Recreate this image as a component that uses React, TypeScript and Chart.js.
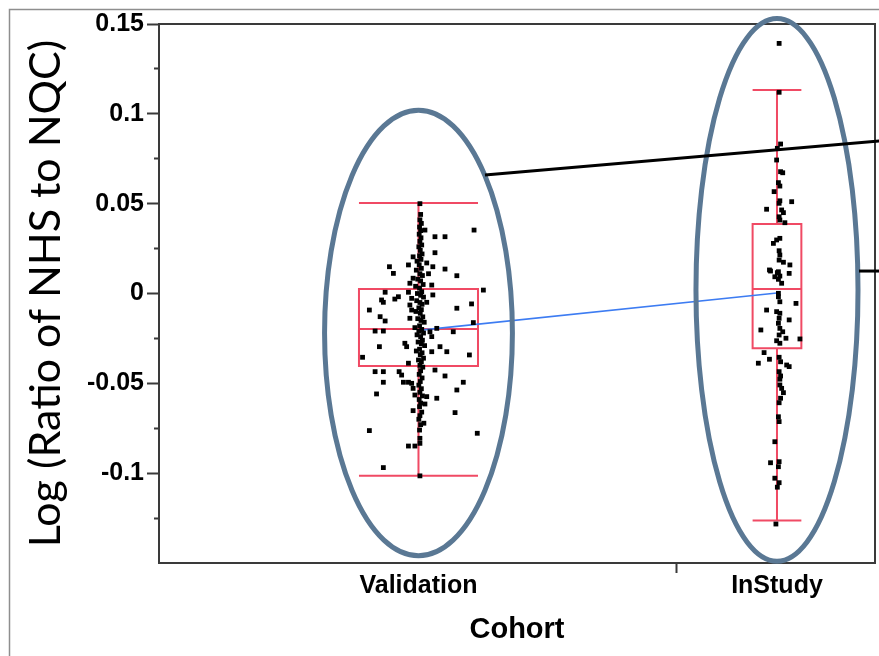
import React, { useEffect, useRef } from 'react';
import { Chart, registerables } from 'chart.js';

Chart.register(...registerables);

// ---------- data ----------
const cohorts = ['Validation', 'InStudy'];
const cohortPositions = [1, 2];
const cohortBoundary = 1.721;
const xTickValues = [1, cohortBoundary, 2];
const xTickLabels = ['Validation', '', 'InStudy'];

const yTickValues = [-0.125, -0.1, -0.075, -0.05, -0.025, 0, 0.025, 0.05, 0.075, 0.1, 0.125, 0.15];
const yTickLabels = ['', '-0.1', '', '-0.05', '', '0', '', '0.05', '', '0.1', '', '0.15'];

// Validation cohort: log ratio values and horizontal jitter (category units)
const validationValues = [
  0.0500, 0.0353, 0.0316, 0.0316, 0.0353, 0.0227, 0.0204, 0.0149, 0.0112, 0.0159,
  0.0170, 0.0149, 0.0136, 0.0110, 0.0099, 0.0085, 0.0057, 0.0047, 0.0019, 0.0007,
  0.0007, -0.0008, -0.0031, -0.0018, -0.0036, -0.0049, -0.0027, -0.0049, -0.0082, -0.0058,
  -0.0092, -0.0064, -0.0092, -0.0129, -0.0153, -0.0138, -0.0162, -0.0209, -0.0209, -0.0213,
  -0.0194, -0.0213, -0.0240, -0.0277, -0.0296, -0.0296, -0.0296, -0.0324, -0.0324, -0.0355,
  -0.0342, -0.0388, -0.0435, -0.0435, -0.0435, -0.0454, -0.0426, -0.0459, -0.0494, -0.0494,
  -0.0494, -0.0500, -0.0528, -0.0494, -0.0537, -0.0559, -0.0565, -0.0574, -0.0583, -0.0615,
  -0.0652, -0.0663, -0.0722, -0.0763, -0.0778, -0.0806, -0.0834, -0.0849, -0.0849, -0.0969,
  -0.1015,
  0.044, 0.041, 0.039, 0.037, 0.035, 0.033, 0.031, 0.029, 0.027, 0.026,
  0.024, 0.022, 0.021, 0.019, 0.018, 0.016, 0.014, 0.013, 0.011, 0.010,
  0.008, 0.007, 0.005, 0.004, 0.003, 0.001, 0.000, -0.001, -0.002, -0.004,
  -0.005, -0.006, -0.008, -0.009, -0.010, -0.011, -0.013, -0.014, -0.015, -0.016,
  -0.018, -0.019, -0.020, -0.021, -0.022, -0.023, -0.024, -0.026, -0.027, -0.028,
  -0.029, -0.031, -0.032, -0.033, -0.034, -0.036, -0.037, -0.038, -0.040, -0.041,
  -0.043, -0.045, -0.047, -0.049, -0.051, -0.053, -0.055, -0.057, -0.059, -0.061,
  -0.063, -0.066, -0.068, -0.070, -0.073, -0.076,
];
const validationJitter = [
  0.004, 0.155, 0.046, 0.074, 0.018, 0.046, -0.015, -0.081, -0.070, -0.028,
  0.023, 0.040, 0.074, 0.028, 0.107, -0.015, -0.024, 0.037, 0.181, -0.093,
  -0.028, 0.040, -0.066, -0.056, -0.103, -0.098, -0.019, 0.023, 0.107, 0.148,
  -0.137, -0.024, -0.019, -0.107, -0.093, -0.024, 0.153, -0.121, -0.098, 0.097,
  0.051, 0.032, 0.037, -0.038, -0.033, -0.109, 0.060, 0.079, 0.037, -0.156,
  0.142, -0.028, -0.121, -0.098, -0.054, -0.047, 0.046, 0.074, -0.098, -0.042,
  -0.028, -0.019, -0.015, 0.125, 0.107, -0.117, -0.010, 0.023, 0.051, 0.018,
  -0.015, 0.102, 0.015, -0.137, 0.164, 0.004, 0.004, -0.028, -0.010, -0.098,
  0.004,
  0.006, 0.004, 0.008, 0.003, 0.006, 0.002, 0.007, 0.004, 0.009, 0.001,
  0.005, 0.010, 0.003, 0.007, -0.004, 0.002, 0.008, -0.006, 0.004, 0.011,
  -0.002, 0.006, 0.013, -0.008, 0.003, 0.009, -0.003, 0.006, 0.014, -0.005,
  0.004, 0.010, 0.001, 0.008, -0.007, 0.005, 0.012, -0.002, 0.007, 0.016,
  0.003, -0.010, 0.009, 0.001, 0.014, -0.004, 0.006, 0.011, -0.001, 0.008,
  0.017, 0.003, -0.006, 0.010, 0.005, 0.014, 0.000, 0.008, 0.004, 0.012,
  0.006, 0.002, 0.010, 0.005, 0.001, 0.008, 0.004, 0.011, 0.002, 0.006,
  0.003, 0.009, 0.004, 0.001, 0.006, 0.003,
];

// InStudy cohort
const inStudyValues = [
  0.1392, 0.1120, 0.0832, 0.0808, 0.0743, 0.0678, 0.0672, 0.0617, 0.0598, 0.0567,
  0.0516, 0.0502, 0.0511, 0.0469, 0.0465, 0.0450, 0.0427, 0.0409, 0.0394, 0.0307,
  0.0298, 0.0279, 0.0238, 0.0214, 0.0186, 0.0174, 0.0159, 0.0131, 0.0121, 0.0097,
  0.0125, 0.0116, 0.0112, 0.0093, 0.0079, 0.0057, 0.0001, -0.0018, -0.0046, -0.0055,
  -0.0092, -0.0101, -0.0110, -0.0147, -0.0138, -0.0166, -0.0194, -0.0203, -0.0213, -0.0231,
  -0.0249, -0.0253, -0.0263, -0.0277, -0.0329, -0.0366, -0.0388, -0.0355, -0.0380, -0.0398,
  -0.0407, -0.0435, -0.0459, -0.0477, -0.0509, -0.0528, -0.0552, -0.0583, -0.0608, -0.0686,
  -0.0713, -0.0825, -0.0942, -0.0936, -0.0964, -0.1028, -0.1053, -0.1078, -0.1283,
];
const inStudyJitter = [
  0.006, 0.006, 0.010, 0.001, -0.001, 0.010, 0.016, 0.004, 0.008, -0.008,
  0.008, 0.006, 0.041, -0.029, 0.013, 0.018, 0.006, 0.008, 0.022, 0.008,
  -0.001, -0.010, 0.006, 0.008, 0.006, 0.018, 0.036, -0.021, 0.004, 0.008,
  -0.018, 0.001, 0.034, -0.006, 0.004, 0.013, 0.004, 0.004, 0.008, 0.053,
  -0.029, -0.001, 0.008, 0.034, 0.006, 0.004, 0.008, -0.045, 0.016, 0.006,
  0.025, 0.064, -0.001, 0.008, -0.036, -0.021, -0.052, 0.006, 0.010, 0.027,
  0.034, 0.006, 0.010, 0.008, 0.008, 0.013, 0.018, 0.010, 0.006, 0.004,
  0.006, -0.006, -0.018, 0.006, 0.004, -0.006, 0.006, 0.001, -0.003,
];

// Box plot statistics per cohort
const whiskerLow = [-0.1015, -0.1264];
const quartile1 = [-0.0403, -0.0305];
const medians = [-0.0198, 0.0025];
const quartile3 = [0.0025, 0.0387];
const whiskerHigh = [0.0504, 0.1132];
const cohortMeans = [-0.0205, 0.0003];

// ---------- styling / annotation config ----------
const boxHalfWidths = [0.166, 0.068];
const ellipses = [
  { x: 1, y: -0.022, rx: 0.262, ry: 0.124 },
  { x: 2, y: 0.002, rx: 0.226, ry: 0.151 },
];
const callouts = [
  { x1: 1.1855, y1: 0.0659, x2: 2.30, y2: 0.0851 },
  { x1: 2.2287, y1: 0.0125, x2: 2.30, y2: 0.0125 },
];

const AXIS = '#3a3a3a';
const FONT = "'Liberation Sans', Arial, sans-serif";

const decorPlugin = {
  id: 'decor',
  beforeDraw(chart: any) {
    const ctx = chart.ctx;
    ctx.save();
    ctx.strokeStyle = '#8e8e8e';
    ctx.lineWidth = 1.5;
    ctx.beginPath();
    ctx.moveTo(9.5, chart.height);
    ctx.lineTo(9.5, 9.5);
    ctx.lineTo(chart.width, 9.5);
    ctx.stroke();
    ctx.restore();
  },
  beforeDatasetsDraw(chart: any) {
    const ctx = chart.ctx;
    const xs = chart.scales.x;
    const ys = chart.scales.y;
    ctx.save();
    ctx.strokeStyle = '#f04a64';
    ctx.lineWidth = 2;
    cohortPositions.forEach((pos, i) => {
      const cx = xs.getPixelForValue(pos);
      const l = xs.getPixelForValue(pos - boxHalfWidths[i]);
      const r = xs.getPixelForValue(pos + boxHalfWidths[i]);
      const q1 = ys.getPixelForValue(quartile1[i]);
      const q3 = ys.getPixelForValue(quartile3[i]);
      const md = ys.getPixelForValue(medians[i]);
      const lo = ys.getPixelForValue(whiskerLow[i]);
      const hi = ys.getPixelForValue(whiskerHigh[i]);
      ctx.beginPath();
      ctx.rect(l, q3, r - l, q1 - q3);
      ctx.moveTo(l, md); ctx.lineTo(r, md);
      ctx.moveTo(cx, q3); ctx.lineTo(cx, hi);
      ctx.moveTo(cx, q1); ctx.lineTo(cx, lo);
      ctx.moveTo(l, hi); ctx.lineTo(r, hi);
      ctx.moveTo(l, lo); ctx.lineTo(r, lo);
      ctx.stroke();
    });
    ctx.restore();
  },
  afterDatasetsDraw(chart: any) {
    const ctx = chart.ctx;
    const xs = chart.scales.x;
    const ys = chart.scales.y;
    const a = chart.chartArea;
    ctx.save();
    // plot frame top & right
    ctx.strokeStyle = AXIS;
    ctx.lineWidth = 2;
    ctx.beginPath();
    ctx.moveTo(a.left, a.top);
    ctx.lineTo(a.right, a.top);
    ctx.lineTo(a.right, a.bottom);
    ctx.stroke();
    // ellipses
    ctx.strokeStyle = '#5a7894';
    ctx.lineWidth = 5;
    ellipses.forEach((e) => {
      const cx = xs.getPixelForValue(e.x);
      const cy = ys.getPixelForValue(e.y);
      const rx = Math.abs(xs.getPixelForValue(e.x + e.rx) - cx);
      const ry = Math.abs(ys.getPixelForValue(e.y + e.ry) - cy);
      ctx.beginPath();
      ctx.ellipse(cx, cy, rx, ry, 0, 0, Math.PI * 2);
      ctx.stroke();
    });
    // callout lines
    ctx.strokeStyle = '#000';
    ctx.lineWidth = 3;
    callouts.forEach((c) => {
      ctx.beginPath();
      ctx.moveTo(xs.getPixelForValue(c.x1), ys.getPixelForValue(c.y1));
      ctx.lineTo(xs.getPixelForValue(c.x2), ys.getPixelForValue(c.y2));
      ctx.stroke();
    });
    ctx.restore();
  },
};

export default function App() {
  const canvasRef = useRef<HTMLCanvasElement | null>(null);

  useEffect(() => {
    document.body.style.margin = '0';
    const canvas = canvasRef.current;
    if (!canvas) return;

    const validationPoints = validationValues.map((v, i) => ({ x: cohortPositions[0] + validationJitter[i], y: v }));
    const inStudyPoints = inStudyValues.map((v, i) => ({ x: cohortPositions[1] + inStudyJitter[i], y: v }));
    const meanPoints = cohortMeans.map((m, i) => ({ x: cohortPositions[i], y: m }));

    const pointStyle = {
      pointStyle: 'rect',
      pointRadius: 3.4,
      pointBorderWidth: 0,
      backgroundColor: '#000',
      pointBackgroundColor: '#000',
      borderColor: '#000',
    };

    const chart = new Chart(canvas, {
      type: 'scatter',
      data: {
        datasets: [
          { label: cohorts[0], data: validationPoints, ...pointStyle } as any,
          { label: cohorts[1], data: inStudyPoints, ...pointStyle } as any,
          {
            label: 'Mean',
            data: meanPoints,
            showLine: true,
            borderColor: '#3d7cf2',
            borderWidth: 1.6,
            pointRadius: 0,
          } as any,
        ],
      },
      options: {
        animation: false,
        responsive: false,
        maintainAspectRatio: false,
        layout: { padding: { top: 24, right: 4, left: 0, bottom: 0 } },
        plugins: { legend: { display: false }, tooltip: { enabled: false } },
        scales: {
          x: {
            type: 'linear',
            min: 0.2762,
            max: 2.2734,
            afterBuildTicks: (s: any) => {
              s.ticks = xTickValues.map((v) => ({ value: v }));
            },
            afterFit: (s: any) => {
              s.height = 93;
            },
            grid: {
              display: true,
              drawOnChartArea: false,
              drawTicks: true,
              tickLength: 10,
              tickWidth: 2,
              color: (c: any) => (c.tick && c.tick.value === cohortBoundary ? AXIS : 'rgba(0,0,0,0)'),
            },
            border: { display: true, color: AXIS, width: 2 },
            ticks: {
              autoSkip: false,
              maxRotation: 0,
              padding: -2,
              color: '#000',
              font: { family: FONT, size: 25, weight: 'bold' },
              callback: (_v: any, i: number) => xTickLabels[i],
            },
            title: {
              display: true,
              text: 'Cohort',
              color: '#000',
              font: { family: FONT, size: 29, weight: 'bold' },
              padding: { top: 0, bottom: 9 },
            },
          },
          y: {
            type: 'linear',
            min: -0.15,
            max: 0.15,
            afterBuildTicks: (s: any) => {
              s.ticks = yTickValues.map((v) => ({ value: v }));
            },
            afterFit: (s: any) => {
              s.width = 159;
            },
            grid: {
              display: true,
              drawOnChartArea: false,
              drawTicks: true,
              tickLength: 12,
              tickWidth: 2,
              color: AXIS,
              tickBorderDash: (c: any) => (yTickLabels[c.index] ? [] : [0, 7, 6, 50]),
            },
            border: { display: true, color: AXIS, width: 2 },
            ticks: {
              autoSkip: false,
              padding: 3,
              color: '#000',
              font: { family: FONT, size: 25, weight: 'bold' },
              callback: (_v: any, i: number) => yTickLabels[i],
            },
            title: {
              display: true,
              text: 'Log (Ratio of NHS to NQC)',
              color: '#000',
              font: { family: 'Lato, ' + FONT, size: 43, weight: 'normal' },
              padding: { top: 20, bottom: 0 },
            },
          },
        },
      } as any,
      plugins: [decorPlugin],
    });

    return () => chart.destroy();
  }, []);

  return (
    <div style={{ width: 879, height: 656 }}>
      <canvas ref={canvasRef} width={879} height={656} style={{ display: 'block', width: 879, height: 656 }} />
    </div>
  );
}
